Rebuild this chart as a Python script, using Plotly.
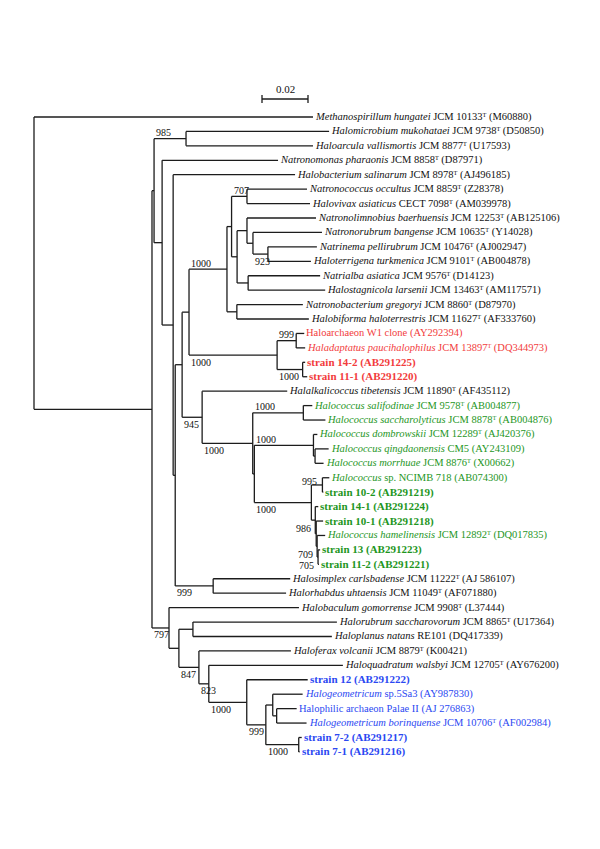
import plotly.graph_objects as go

# ---------------- data ----------------
# Tree topology with branch lengths (substitutions/site) and bootstrap values (of 1000)
newick = (
    "(L1:0.1213,"
    "(("
    "(L2:0.0622,L3:0.0552)985:0.0139,"
    "(L4:0.0504,"
    "(L5:0.0530,"
    "((("
    "(((L6:0.0261,L7:0.0274)707:0.0067,"
    "((L8:0.0300,(L9:0.0300,(L10:0.0213,L11:0.0187)923:0.0065):0.0026):0.0043,"
    "(L12:0.0313,L13:0.0335):0.0048):0.0024):0.0020,"
    "(L14:0.0287,L15:0.0313):0.0043)1000:0.0165,"
    "((L16:0.0035,L17:0.0039)999:0.0083,(L18:0.0011,L19:0.0020)1000:0.0111)1000:0.0383"
    "):0.0030,"
    "(L20:0.0370,"
    "((L21:0.0039,L22:0.0096)1000:0.0220,"
    "((L23:0.0017,(L24:0.0059,L25:0.0037):0.0007)1000:0.0257,"
    "((L26:0.0030,L27:0.0004)995:0.0048,"
    "(L28:0.0013,(L29:0.0030,(L30:0.0035,(L31:0.0009,L32:0.0004)705:0.0004)709:0.0004):0.0004)986:0.0017"
    ")1000:0.0248):0.0007)1000:0.0220)945:0.0087"
    "):0.0030,"
    "(L33:0.0335,L34:0.0317)999:0.0165"
    "):0.0009):0.0048):0.0035):0.0009,"
    "(L35:0.0565,"
    "((L36:0.0626,L37:0.0604):0.0061,"
    "(L38:0.0400,"
    "(L39:0.0583,"
    "(L40:0.0265,"
    "((L41:0.0130,(L42:0.0087,L43:0.0130):0.0017):0.0030,(L44:0.0013,L45:0.0004)1000:0.0143)999:0.0083"
    ")1000:0.0165)823:0.0043)847:0.0087):0.0043)797:0.0074"
    "):0.0513);"
)

leaf_italic = [
    "Methanospirillum hungatei", "Halomicrobium mukohataei", "Haloarcula vallismortis",
    "Natronomonas pharaonis", "Halobacterium salinarum", "Natronococcus occultus",
    "Halovivax asiaticus", "Natronolimnobius baerhuensis", "Natronorubrum bangense",
    "Natrinema pellirubrum", "Haloterrigena turkmenica", "Natrialba asiatica",
    "Halostagnicola larsenii", "Natronobacterium gregoryi", "Halobiforma haloterrestris",
    "", "Haladaptatus paucihalophilus", "", "", "Halalkalicoccus tibetensis",
    "Halococcus salifodinae", "Halococcus saccharolyticus", "Halococcus dombrowskii",
    "Halococcus qingdaonensis", "Halococcus morrhuae", "Halococcus", "", "", "",
    "Halococcus hamelinensis", "", "", "Halosimplex carlsbadense", "Halorhabdus uhtaensis",
    "Halobaculum gomorrense", "Halorubrum saccharovorum", "Haloplanus natans",
    "Haloferax volcanii", "Haloquadratum walsbyi", "", "Halogeometricum", "",
    "Halogeometricum borinquense", "", "",
]
leaf_strain = [
    "JCM 10133", "JCM 9738", "JCM 8877", "JCM 8858", "JCM 8978", "JCM 8859", "CECT 7098",
    "JCM 12253", "JCM 10635", "JCM 10476", "JCM 9101", "JCM 9576", "JCM 13463", "JCM 8860",
    "JCM 11627", "Haloarchaeon W1 clone", "JCM 13897", "strain 14-2", "strain 11-1",
    "JCM 11890", "JCM 9578", "JCM 8878", "JCM 12289", "CM5", "JCM 8876", "sp. NCIMB 718",
    "strain 10-2", "strain 14-1", "strain 10-1", "JCM 12892", "strain 13", "strain 11-2",
    "JCM 11222", "JCM 11049", "JCM 9908", "JCM 8865", "RE101", "JCM 8879", "JCM 12705",
    "strain 12", "sp.5Sa3", "Halophilic archaeon Palae II", "JCM 10706", "strain 7-2", "strain 7-1",
]
leaf_type = [1, 1, 1, 1, 1, 1, 1, 1, 1, 1, 1, 1, 1, 1, 1, 0, 1, 0, 0, 1, 1, 1, 1, 0, 1, 0, 0, 0, 0,
             1, 0, 0, 1, 1, 1, 1, 0, 1, 1, 0, 0, 0, 1, 0, 0]
leaf_accession = [
    "M60880", "D50850", "U17593", "D87971", "AJ496185", "Z28378", "AM039978", "AB125106",
    "Y14028", "AJ002947", "AB004878", "D14123", "AM117571", "D87970", "AF333760", "AY292394",
    "DQ344973", "AB291225", "AB291220", "AF435112", "AB004877", "AB004876", "AJ420376",
    "AY243109", "X00662", "AB074300", "AB291219", "AB291224", "AB291218", "DQ017835",
    "AB291223", "AB291221", "AJ 586107", "AF071880", "L37444", "U17364", "DQ417339", "K00421",
    "AY676200", "AB291222", "AY987830", "AJ 276863", "AF002984", "AB291217", "AB291216",
]
leaf_group = list("kkkkkkkkkkkkkkk" "rrrr" "k" "gggggggggggg" "kkkkkkk" "bbbbbb")

scale_length = 0.02
scale_label = "0.02"

# ---------------- layout / style ----------------
group_color = {"k": "#111111", "r": "#f23c3c", "g": "#1e961e", "b": "#2b48f2"}
# placement of bootstrap labels, in order of appearance in the newick string
support_place = ["a", "a", "b", "a", "a", "b", "b", "a", "a", "m", "r", "r", "r",
                 "b", "b", "b", "b", "b", "b", "b", "b", "b", "b"]
PAGE_OFF = 8              # default page margin around the plot div
W, H = 600 - PAGE_OFF, 849 - PAGE_OFF
PX_PER_UNIT = 2300.0      # 0.02 subst/site == 46 px
ROOT_PX = 34.0 - PAGE_OFF
ROW0_PX = 117.0 - PAGE_OFF
ROW_PX = 14.43
SB_LEFT_PX, SB_Y_PX = 262 - PAGE_OFF, 99 - PAGE_OFF
FONT = "Liberation Serif"
TYPE_MARK = "\u1d40"


def parse_newick(s):
    s = "".join(s.split())
    pos = 0

    def node():
        nonlocal pos
        n = {"children": [], "name": "", "len": 0.0}
        if s[pos] == "(":
            pos += 1
            while True:
                n["children"].append(node())
                if s[pos] == ",":
                    pos += 1
                    continue
                pos += 1  # ')'
                break
        st = pos
        while pos < len(s) and s[pos] not in ":,();":
            pos += 1
        n["name"] = s[st:pos]
        if pos < len(s) and s[pos] == ":":
            pos += 1
            st = pos
            while pos < len(s) and s[pos] not in ",();":
                pos += 1
            n["len"] = float(s[st:pos])
        return n

    return node()


tree = parse_newick(newick)
leaf_counter = [0]
postorder = []


def layout(n, x0):
    n["x"] = x0 + n["len"]
    for c in n["children"]:
        c["parent"] = n
        layout(c, n["x"])
    if n["children"]:
        n["y"] = (n["children"][0]["y"] + n["children"][-1]["y"]) / 2.0
    else:
        n["y"] = float(leaf_counter[0])
        leaf_counter[0] += 1
    postorder.append(n)


tree["len"] = 0.0
layout(tree, 0.0)

lx, ly = [], []
for n in postorder:
    if n["children"]:
        lx += [n["x"], n["x"], None]
        ly += [n["children"][0]["y"], n["children"][-1]["y"], None]
        for c in n["children"]:
            lx += [n["x"], c["x"], None]
            ly += [c["y"], c["y"], None]

fig = go.Figure()
fig.add_trace(go.Scatter(x=lx, y=ly, mode="lines", line=dict(color="#1c1c1c", width=1.3),
                         hoverinfo="skip", showlegend=False))

annotations = []
# leaf labels
for n in postorder:
    if n["children"]:
        continue
    i = int(n["name"][1:]) - 1
    parts = []
    if leaf_italic[i]:
        parts.append("<i>" + leaf_italic[i] + "</i>")
    strain = leaf_strain[i]
    if leaf_type[i]:
        strain += TYPE_MARK
    parts.append(strain)
    parts.append("(" + leaf_accession[i] + ")")
    txt = " ".join(parts)
    size = 10.5
    if strain.startswith("strain"):
        txt = "<b>" + txt + "</b>"
        size = 11
    annotations.append(dict(x=n["x"], y=n["y"], text=txt, showarrow=False,
                            xanchor="left", yanchor="middle", xshift=0,
                            font=dict(family=FONT, size=size, color=group_color[leaf_group[i]])))

# bootstrap labels
k = 0
for n in postorder:
    if n["children"] and n["name"]:
        mode = support_place[k]
        k += 1
        p = n["parent"]
        if mode == "a":
            a = dict(x=p["x"], y=n["y"], xanchor="left", yshift=6)
        elif mode == "b":
            a = dict(x=p["x"], y=n["y"], xanchor="left", yshift=-7)
        elif mode == "m":
            a = dict(x=n["x"], y=n["y"], xanchor="right", xshift=-3, yshift=3)
        else:
            a = dict(x=n["x"], y=n["y"], xanchor="right", xshift=-2, yshift=-8)
        a.update(text=n["name"], showarrow=False, yanchor="middle",
                 font=dict(family=FONT, size=10, color="#111111"))
        annotations.append(a)

# scale bar
sb_x0 = (SB_LEFT_PX - ROOT_PX) / PX_PER_UNIT
sb_y = (SB_Y_PX - ROW0_PX) / ROW_PX
tick = 0.28
shapes = [
    dict(type="line", x0=sb_x0, x1=sb_x0 + scale_length, y0=sb_y, y1=sb_y,
         line=dict(color="#1c1c1c", width=1.3)),
    dict(type="line", x0=sb_x0, x1=sb_x0, y0=sb_y - tick, y1=sb_y + tick,
         line=dict(color="#1c1c1c", width=1.3)),
    dict(type="line", x0=sb_x0 + scale_length, x1=sb_x0 + scale_length,
         y0=sb_y - tick, y1=sb_y + tick, line=dict(color="#1c1c1c", width=1.3)),
]
annotations.append(dict(x=sb_x0 + scale_length / 2, y=sb_y, text=scale_label, showarrow=False,
                        xanchor="center", yanchor="bottom", yshift=2,
                        font=dict(family=FONT, size=11, color="#111111")))

fig.update_layout(
    width=W, height=H, margin=dict(l=0, r=0, t=0, b=0),
    paper_bgcolor="white", plot_bgcolor="white",
    xaxis=dict(visible=False, range=[-ROOT_PX / PX_PER_UNIT, (W - ROOT_PX) / PX_PER_UNIT]),
    yaxis=dict(visible=False, range=[(H - ROW0_PX) / ROW_PX, -ROW0_PX / ROW_PX]),
    annotations=annotations, shapes=shapes, showlegend=False,
)
fig.write_html("out.html")
